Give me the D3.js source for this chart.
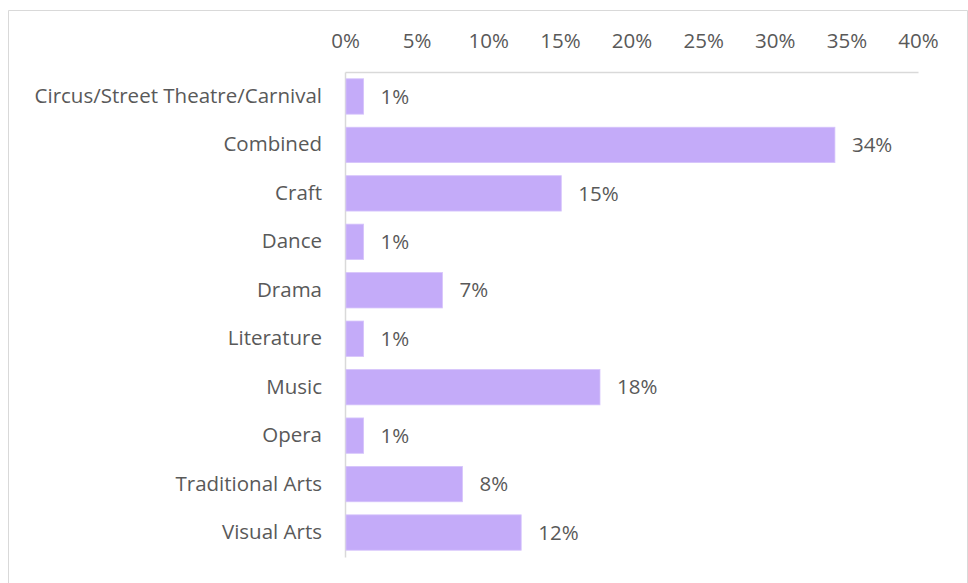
<!DOCTYPE html>
<html>
<head>
<meta charset="utf-8">
<script src="https://cdn.jsdelivr.net/npm/d3@7"></script>
<style>
  html, body { margin: 0; padding: 0; background: #fff; }
  svg { display: block; }
  text { font-family: "Open Sans", "Noto Sans", sans-serif; fill: #595959; }
</style>
</head>
<body>
<svg id="chart" width="968" height="583"></svg>
<script>
// Share of projects by artform
const categories = [
  "Circus/Street Theatre/Carnival", "Combined", "Craft", "Dance", "Drama",
  "Literature", "Music", "Opera", "Traditional Arts", "Visual Arts"
];
const shares = [0.013, 0.342, 0.151, 0.013, 0.068, 0.013, 0.178, 0.013, 0.082, 0.123];
const tickValues = [0, 0.05, 0.10, 0.15, 0.20, 0.25, 0.30, 0.35, 0.40];

const svg = d3.select("#chart");
const W = 968, H = 583;
const FONT = "'Open Sans', 'Noto Sans', sans-serif";
const FS = "20.5px";

// outer frame (open at the bottom)
svg.append("path")
  .attr("d", `M8.5,${H} V10.5 H967.5 V${H}`)
  .attr("fill", "none")
  .attr("stroke", "#d9d9d9")
  .attr("stroke-width", 1);

const plot = { left: 345, right: 918, top: 72, bottom: 557 };

const x = d3.scaleLinear().domain([0, 0.40]).range([plot.left, plot.right]);
const y = d3.scaleBand().domain(categories).range([plot.top, plot.bottom]).paddingInner(0.27).paddingOuter(0.14);

const pct = d3.format(".0%");

// top axis: baseline rule and tick labels
const xAxis = d3.axisTop(x).tickValues(tickValues).tickFormat(pct).tickSize(0).tickPadding(24);
const gx = svg.append("g").attr("transform", `translate(0,${plot.top})`).call(xAxis);
gx.select(".domain").attr("stroke", "#d9d9d9").attr("stroke-width", 1.3);
gx.selectAll("text").style("font-size", FS).attr("fill", "#595959").attr("font-family", FONT);

// left axis: category labels
const yAxis = d3.axisLeft(y).tickSize(0).tickPadding(23);
const gy = svg.append("g").attr("transform", `translate(${plot.left},0)`).call(yAxis);
gy.select(".domain").attr("stroke", "#d9d9d9").attr("stroke-width", 1.5);
gy.selectAll("text").style("font-size", FS).attr("fill", "#595959").attr("font-family", FONT);

// bars
svg.append("g").selectAll("rect")
  .data(categories)
  .join("rect")
  .attr("x", x(0) + 1)
  .attr("y", d => y(d))
  .attr("width", (d, i) => x(shares[i]) - x(0) - 1)
  .attr("height", y.bandwidth())
  .attr("fill", "#c4abf9")
  .attr("stroke", "#d6c4fb")
  .attr("stroke-width", 0.8);

// value labels
svg.append("g").selectAll("text")
  .data(categories)
  .join("text")
  .attr("x", (d, i) => x(shares[i]) + 17)
  .attr("y", d => y(d) + y.bandwidth() / 2)
  .attr("dy", "0.35em")
  .style("font-size", FS)
  .text((d, i) => pct(shares[i]));
</script>
</body>
</html>
